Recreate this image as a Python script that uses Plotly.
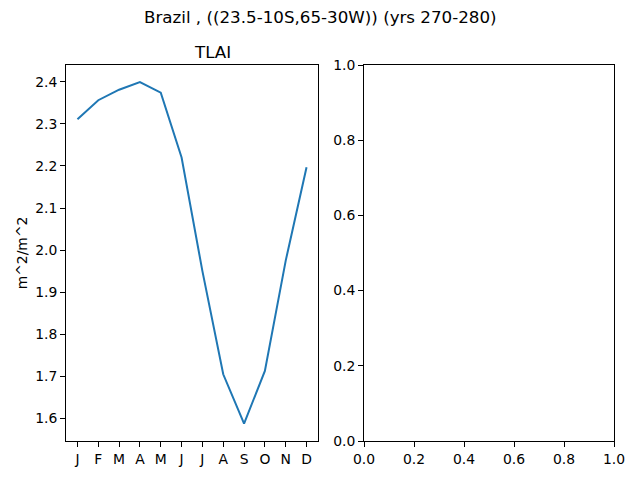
import plotly.graph_objects as go

months = ["J", "F", "M", "A", "M", "J", "J", "A", "S", "O", "N", "D"]
tlai = [2.311, 2.356, 2.381, 2.399, 2.374, 2.220, 1.950, 1.705, 1.588, 1.713, 1.975, 2.197]
left_yticks = [1.6, 1.7, 1.8, 1.9, 2.0, 2.1, 2.2, 2.3, 2.4]
right_ticks = [0.0, 0.2, 0.4, 0.6, 0.8, 1.0]

# page body has an 8px margin, so the figure is drawn at 624x464 from (8, 8)
W, H, OFF = 624, 464, 8


def px_x(x):
    return (x - OFF) / W


def px_y(y):
    return (H + OFF - y) / H


font = dict(family="DejaVu Sans", size=13.9, color="black")
title_font = dict(family="DejaVu Sans", size=16.7, color="black")

fig = go.Figure()
fig.add_trace(go.Scatter(x=list(range(len(months))), y=tlai, mode="lines",
                         line=dict(color="#1f77b4", width=2),
                         xaxis="x", yaxis="y", showlegend=False))
# empty trace so the right axes get drawn
fig.add_trace(go.Scatter(x=[], y=[], xaxis="x2", yaxis="y2", showlegend=False))

axis_common = dict(showline=True, linecolor="black", linewidth=1, mirror=True,
                   ticks="outside", ticklen=5, tickwidth=1, tickcolor="black",
                   showgrid=False, zeroline=False, tickfont=font, automargin=False)

fig.update_layout(
    width=W, height=H,
    margin=dict(l=0, r=0, t=0, b=0),
    paper_bgcolor="white", plot_bgcolor="white",
    font=font,
    xaxis=dict(domain=[px_x(66), px_x(318)], range=[-0.55, 11.55],
               tickvals=list(range(len(months))), ticktext=months,
               anchor="y", **axis_common),
    yaxis=dict(domain=[px_y(441), px_y(65)], range=[1.5465, 2.4397],
               tickvals=left_yticks, ticktext=[f"{v:.1f}" for v in left_yticks],
               title=dict(text="m^2/m^2", font=font, standoff=4),
               anchor="x", **axis_common),
    xaxis2=dict(domain=[px_x(364), px_x(614)], range=[0, 1],
                tickvals=right_ticks, ticktext=[f"{v:.1f}" for v in right_ticks],
                anchor="y2", **axis_common),
    yaxis2=dict(domain=[px_y(441), px_y(65)], range=[0, 1],
                tickvals=right_ticks, ticktext=[f"{v:.1f}" for v in right_ticks],
                anchor="x2", **axis_common),
    annotations=[
        dict(text="Brazil , ((23.5-10S,65-30W)) (yrs 270-280)", x=px_x(320), y=px_y(17),
             xref="paper", yref="paper", showarrow=False, yanchor="middle",
             font=title_font),
        dict(text="TLAI", x=px_x(192), y=px_y(52),
             xref="paper", yref="paper", showarrow=False, yanchor="middle",
             font=title_font),
    ],
)

fig.write_html("out.html")
